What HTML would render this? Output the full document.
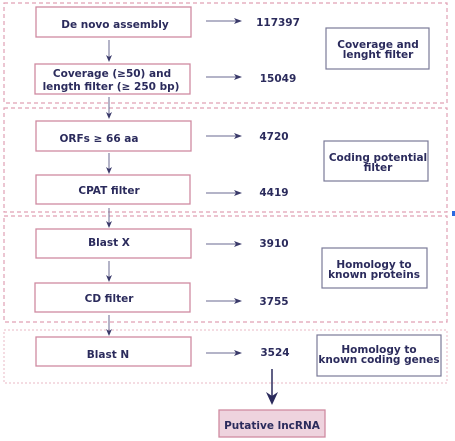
<!DOCTYPE html>
<html><head><style>
html,body{margin:0;padding:0;background:#fff;}
svg{display:block;}
text{font-family:"DejaVu Sans","Liberation Sans",sans-serif;font-weight:bold;fill:#2b2b5c;font-size:10.5px;}
</style></head><body>
<svg width="455" height="441" viewBox="0 0 455 441" xmlns="http://www.w3.org/2000/svg">
<defs>
<marker id="ah" markerWidth="8" markerHeight="6" refX="7" refY="3" orient="auto" markerUnits="userSpaceOnUse">
<path d="M0,0 L8,3 L0,6 L2,3 Z" fill="#3a3a6a"/></marker>
<marker id="av" markerWidth="7" markerHeight="6" refX="6" refY="3" orient="auto" markerUnits="userSpaceOnUse">
<path d="M0,0 L7,3 L0,6 L2,3 Z" fill="#3a3a6a"/></marker>
</defs>
<g fill="none" stroke="#e0a0b4" stroke-width="1.2" stroke-dasharray="4,3">
<rect x="4" y="3" width="443" height="100"/>
<rect x="4" y="108" width="443" height="104"/>
<rect x="4" y="216" width="443" height="106"/>
</g>
<rect x="4" y="330" width="443" height="53" fill="none" stroke="#e8b8c6" stroke-width="1" stroke-dasharray="2,2"/>
<g fill="#fff" stroke="#cf8aa0" stroke-width="1.3">
<rect x="36" y="7" width="155" height="30"/>
<rect x="35" y="64" width="155" height="30"/>
<rect x="36" y="121" width="155" height="30"/>
<rect x="36" y="175" width="154" height="29"/>
<rect x="36" y="229" width="155" height="29"/>
<rect x="35" y="283" width="155" height="29"/>
<rect x="36" y="337" width="155" height="29"/>
<rect x="219" y="410" width="106" height="27" fill="#eed3de"/>
</g>
<g fill="#fff" stroke="#7a7a98" stroke-width="1.2">
<rect x="326" y="28" width="103" height="41"/>
<rect x="324" y="141" width="104" height="40"/>
<rect x="322" y="248" width="105" height="40"/>
<rect x="317" y="335" width="124" height="41"/>
</g>
<g stroke="#6a6a90" stroke-width="1">
<line x1="206" y1="21" x2="241" y2="21" marker-end="url(#ah)"/>
<line x1="206" y1="77" x2="241" y2="77" marker-end="url(#ah)"/>
<line x1="206" y1="136" x2="241" y2="136" marker-end="url(#ah)"/>
<line x1="206" y1="193" x2="241" y2="193" marker-end="url(#ah)"/>
<line x1="206" y1="244" x2="241" y2="244" marker-end="url(#ah)"/>
<line x1="206" y1="301" x2="241" y2="301" marker-end="url(#ah)"/>
<line x1="206" y1="353" x2="241" y2="353" marker-end="url(#ah)"/>
<line x1="109" y1="40" x2="109" y2="61" marker-end="url(#av)"/>
<line x1="109" y1="97" x2="109" y2="118" marker-end="url(#av)"/>
<line x1="109" y1="153" x2="109" y2="173" marker-end="url(#av)"/>
<line x1="109" y1="208" x2="109" y2="227" marker-end="url(#av)"/>
<line x1="109" y1="261" x2="109" y2="281" marker-end="url(#av)"/>
<line x1="109" y1="315" x2="109" y2="335" marker-end="url(#av)"/>
</g>
<line x1="272" y1="369" x2="272" y2="398" stroke="#2b2b5c" stroke-width="1.5"/>
<path d="M266,392 L272,405 L278,392 L272,396 Z" fill="#2b2b5c"/>
<g text-anchor="middle">
<text x="115" y="28">De novo assembly</text>
<text x="112" y="77">Coverage (≥50) and</text>
<text x="111" y="90">length filter (≥ 250 bp)</text>
<text x="99" y="142">ORFs ≥ 66 aa</text>
<text x="109" y="194">CPAT filter</text>
<text x="109" y="246">Blast X</text>
<text x="109" y="302">CD filter</text>
<text x="108" y="358">Blast N</text>
<text x="272" y="429">Putative lncRNA</text>
<text x="278" y="26">117397</text>
<text x="278" y="82">15049</text>
<text x="274" y="140">4720</text>
<text x="274" y="196">4419</text>
<text x="274" y="247">3910</text>
<text x="274" y="305">3755</text>
<text x="275" y="356">3524</text>
<text x="378" y="48">Coverage and</text>
<text x="378" y="58">lenght filter</text>
<text x="378" y="161">Coding potential</text>
<text x="378" y="171">filter</text>
<text x="374" y="268">Homology to</text>
<text x="374" y="278">known proteins</text>
<text x="379" y="353">Homology to</text>
<text x="379" y="363">known coding genes</text>
</g>
<rect x="452" y="211" width="3" height="5" fill="#2a6ae0"/>
</svg>
</body></html>
